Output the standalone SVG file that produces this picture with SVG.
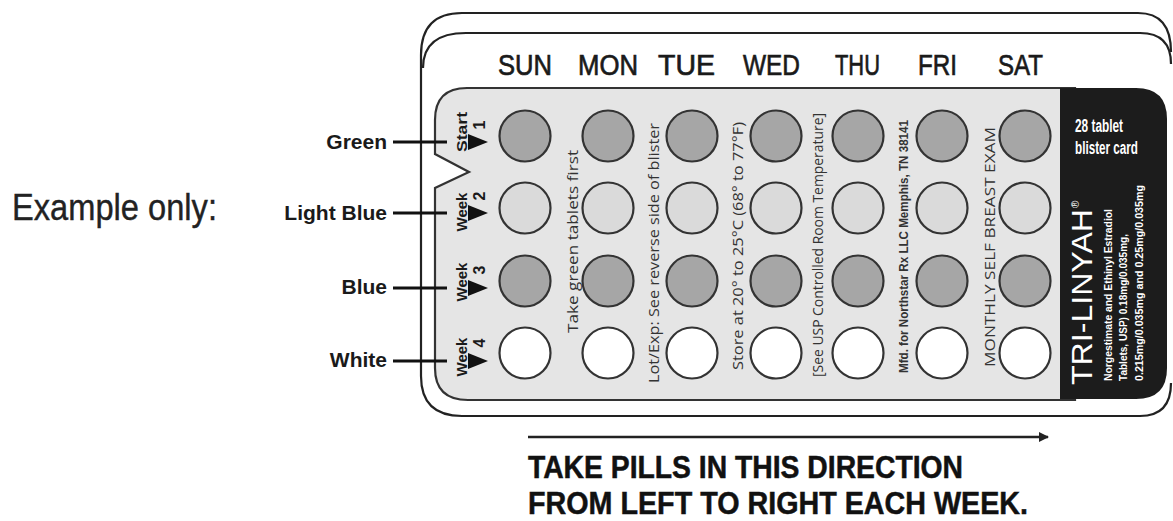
<svg xmlns="http://www.w3.org/2000/svg" width="1173" height="521" viewBox="0 0 1173 521">
<style>
.frame{fill:none;stroke:#222;stroke-width:2.2}
.day{font-family:"Liberation Sans",Arial,sans-serif;font-size:30px;fill:#1a1a1a;stroke:#1a1a1a;stroke-width:0.7}
.pill{stroke:#333;stroke-width:2.2}
.dark{fill:#a6a6a6}
.light{fill:#dadada}
.white{fill:#ffffff}
.legend{font-family:"Liberation Sans",Arial,sans-serif;font-size:21px;font-weight:bold;fill:#1a1a1a}
.wk{font-family:"Liberation Sans",Arial,sans-serif;font-size:15px;font-weight:bold;fill:#1a1a1a}
.num{font-family:"Liberation Sans",Arial,sans-serif;font-size:16px;font-weight:bold;fill:#1a1a1a}
.vt{font-family:"Open Sans","Liberation Sans",sans-serif;font-size:15px;fill:#333}
.vtb{font-family:"Liberation Sans",Arial,sans-serif;font-size:12px;font-weight:bold;fill:#333}
.wt{font-family:"Liberation Sans",Arial,sans-serif;font-weight:bold;fill:#fff}
.big{font-family:"Liberation Sans",Arial,sans-serif;font-size:32px;font-weight:bold;fill:#111;stroke:#111;stroke-width:0.5}
.conn{stroke:#111;stroke-width:3;fill:none}
</style>
<defs>
<marker id="ah" viewBox="0 0 10 10" refX="9" refY="5" markerWidth="5" markerHeight="4" orient="auto" markerUnits="strokeWidth">
<path d="M0,0 L10,5 L0,10 Z" fill="#222"/>
</marker>
</defs>
<rect width="1173" height="521" fill="#fff"/>

<g id="example-label">
<text x="12" y="220" font-family="Liberation Sans, Arial, sans-serif" font-size="37" fill="#222" stroke="#222" stroke-width="0.4" textLength="205" lengthAdjust="spacingAndGlyphs">Example only:</text>
</g>

<g id="card">
<path class="frame" d="M1171,52 Q1171,13 1138,13 L462,13 Q421,13 421,55 L421,376 Q421,416 462,416 L1140,416 Q1171,416 1171,383"/>
<path class="frame" d="M423,68 Q423,33 466,33 L1140,33 Q1171,33 1171,64"/>
</g>

<g id="day-labels">
<text class="day" x="498" y="75" textLength="54" lengthAdjust="spacingAndGlyphs">SUN</text>
<text class="day" x="578" y="75" textLength="60" lengthAdjust="spacingAndGlyphs">MON</text>
<text class="day" x="658" y="75" textLength="57" lengthAdjust="spacingAndGlyphs">TUE</text>
<text class="day" x="743" y="75" textLength="57" lengthAdjust="spacingAndGlyphs">WED</text>
<text class="day" x="835" y="75" textLength="45" lengthAdjust="spacingAndGlyphs">THU</text>
<text class="day" x="918" y="75" textLength="39" lengthAdjust="spacingAndGlyphs">FRI</text>
<text class="day" x="998" y="75" textLength="45" lengthAdjust="spacingAndGlyphs">SAT</text>
</g>

<g id="blister">
<path d="M467,88 L1075,88 L1075,400 L468,400 Q435,400 435,368 L435,188 L469,172 L435,154 L435,120 Q435,88 467,88 Z" fill="#e5e5e5" stroke="#333" stroke-width="2.2"/>
</g>

<g id="brand-panel">
<path d="M1060,88 L1136,88 Q1167,88 1167,119 L1167,368 Q1167,399 1136,399 L1060,399 Z" fill="#1c1c1c"/>
<text class="wt" x="1075" y="132" font-size="18" textLength="48" lengthAdjust="spacingAndGlyphs">28 tablet</text>
<text class="wt" x="1075" y="154" font-size="18" textLength="63" lengthAdjust="spacingAndGlyphs">blister card</text>
<text transform="translate(1092,385) rotate(-90)" font-family="Liberation Sans, Arial, sans-serif" font-size="30" fill="#fff" textLength="176" lengthAdjust="spacingAndGlyphs">TRI-LINYAH</text>
<text transform="translate(1079,208) rotate(-90)" font-family="Liberation Sans, Arial, sans-serif" font-size="10" fill="#fff">®</text>
<text class="wt" transform="translate(1112,381) rotate(-90)" font-size="11" textLength="172" lengthAdjust="spacingAndGlyphs">Norgestimate and Ethinyl Estradiol</text>
<text class="wt" transform="translate(1127,381) rotate(-90)" font-size="11" textLength="147" lengthAdjust="spacingAndGlyphs">Tablets, USP) 0.18mg/0.035mg,</text>
<text class="wt" transform="translate(1143,381) rotate(-90)" font-size="11" textLength="196" lengthAdjust="spacingAndGlyphs">0.215mg/0.035mg and 0.25mg/0.035mg</text>
</g>

<g id="pills">
<g id="row-1">
<circle class="pill dark" cx="525" cy="136" r="25.5"/><circle class="pill dark" cx="608" cy="136" r="25.5"/><circle class="pill dark" cx="692" cy="136" r="25.5"/><circle class="pill dark" cx="776" cy="136" r="25.5"/><circle class="pill dark" cx="858" cy="136" r="25.5"/><circle class="pill dark" cx="942" cy="136" r="25.5"/><circle class="pill dark" cx="1025" cy="136" r="25.5"/>
</g>
<g id="row-2">
<circle class="pill light" cx="525" cy="208" r="25.5"/><circle class="pill light" cx="608" cy="208" r="25.5"/><circle class="pill light" cx="692" cy="208" r="25.5"/><circle class="pill light" cx="776" cy="208" r="25.5"/><circle class="pill light" cx="858" cy="208" r="25.5"/><circle class="pill light" cx="942" cy="208" r="25.5"/><circle class="pill light" cx="1025" cy="208" r="25.5"/>
</g>
<g id="row-3">
<circle class="pill dark" cx="525" cy="281" r="25.5"/><circle class="pill dark" cx="608" cy="281" r="25.5"/><circle class="pill dark" cx="692" cy="281" r="25.5"/><circle class="pill dark" cx="776" cy="281" r="25.5"/><circle class="pill dark" cx="858" cy="281" r="25.5"/><circle class="pill dark" cx="942" cy="281" r="25.5"/><circle class="pill dark" cx="1025" cy="281" r="25.5"/>
</g>
<g id="row-4">
<circle class="pill white" cx="525" cy="353" r="25.5"/><circle class="pill white" cx="608" cy="353" r="25.5"/><circle class="pill white" cx="692" cy="353" r="25.5"/><circle class="pill white" cx="776" cy="353" r="25.5"/><circle class="pill white" cx="858" cy="353" r="25.5"/><circle class="pill white" cx="942" cy="353" r="25.5"/><circle class="pill white" cx="1025" cy="353" r="25.5"/>
</g>
</g>

<g id="blister-texts">
<text class="vt" transform="translate(578,333) rotate(-90)" textLength="183" lengthAdjust="spacingAndGlyphs">Take green tablets first</text>
<text class="vt" transform="translate(659,383) rotate(-90)" textLength="260" lengthAdjust="spacingAndGlyphs">Lot/Exp: See reverse side of blister</text>
<text class="vt" transform="translate(743,370) rotate(-90)" textLength="248" lengthAdjust="spacingAndGlyphs">Store at 20° to 25°C (68° to 77°F)</text>
<text class="vt" font-size="13" transform="translate(823,377) rotate(-90)" textLength="264" lengthAdjust="spacingAndGlyphs">[See USP Controlled Room Temperature]</text>
<text class="vtb" transform="translate(908,373) rotate(-90)" textLength="253" lengthAdjust="spacingAndGlyphs">Mfd. for Northstar Rx LLC Memphis, TN 38141</text>
<text class="vt" font-size="16" transform="translate(995,367) rotate(-90)" textLength="240" lengthAdjust="spacingAndGlyphs">MONTHLY SELF BREAST EXAM</text>
</g>

<g id="week-markers">
<g id="week-1">
<text class="wk" font-size="16" text-anchor="middle" transform="translate(467,132) rotate(-90)" textLength="40" lengthAdjust="spacingAndGlyphs">Start</text>
<polygon points="468,134 488,142 468,150" fill="#111"/>
<text class="num" text-anchor="middle" transform="translate(485,125) rotate(-90)">1</text>
</g>
<g id="week-2">
<text class="wk" text-anchor="middle" transform="translate(467,212) rotate(-90)">Week</text>
<polygon points="468,205 488,213 468,221" fill="#111"/>
<text class="num" text-anchor="middle" transform="translate(485,196) rotate(-90)">2</text>
</g>
<g id="week-3">
<text class="wk" text-anchor="middle" transform="translate(467,282) rotate(-90)">Week</text>
<polygon points="468,280 488,288 468,296" fill="#111"/>
<text class="num" text-anchor="middle" transform="translate(485,270) rotate(-90)">3</text>
</g>
<g id="week-4">
<text class="wk" text-anchor="middle" transform="translate(467,357) rotate(-90)">Week</text>
<polygon points="468,353 488,361 468,369" fill="#111"/>
<text class="num" text-anchor="middle" transform="translate(485,343) rotate(-90)">4</text>
</g>
</g>

<g id="legend">
<text class="legend" x="387" y="149" text-anchor="end">Green</text>
<text class="legend" x="387" y="220" text-anchor="end">Light Blue</text>
<text class="legend" x="387" y="294" text-anchor="end">Blue</text>
<text class="legend" x="387" y="367" text-anchor="end">White</text>
</g>

<g id="connectors">
<line class="conn" x1="393" y1="142" x2="447" y2="142"/>
<line class="conn" x1="393" y1="213" x2="447" y2="213"/>
<line class="conn" x1="393" y1="288" x2="447" y2="288"/>
<line class="conn" x1="393" y1="361" x2="447" y2="361"/>
<line x1="528" y1="437" x2="1048" y2="437" stroke="#222" stroke-width="2.5" marker-end="url(#ah)"/>
</g>

<g id="direction-text">
<text class="big" x="528" y="478" textLength="435" lengthAdjust="spacingAndGlyphs">TAKE PILLS IN THIS DIRECTION</text>
<text class="big" x="528" y="514" textLength="500" lengthAdjust="spacingAndGlyphs">FROM LEFT TO RIGHT EACH WEEK.</text>
</g>
</svg>
